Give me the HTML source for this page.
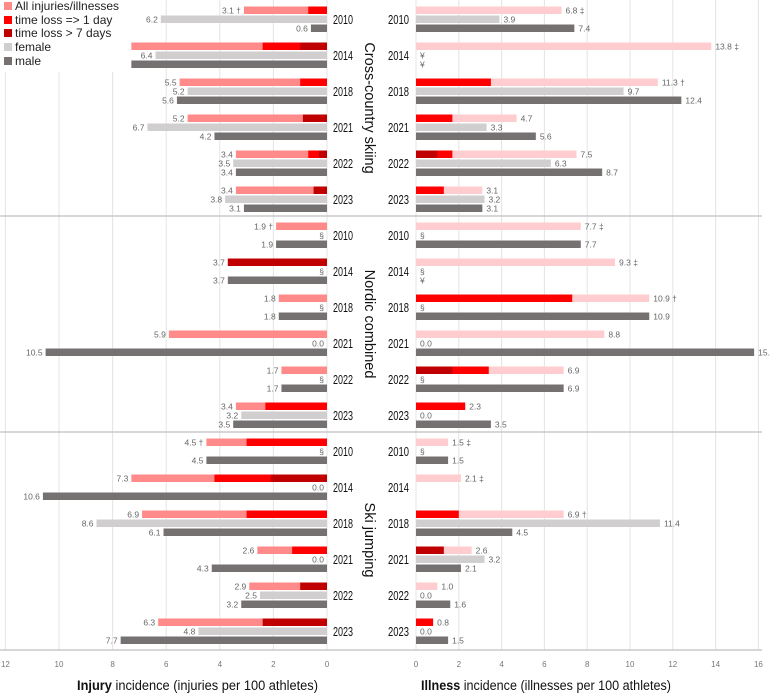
<!DOCTYPE html>
<html><head><meta charset="utf-8"><style>
html,body{margin:0;padding:0;background:#fff;}
svg{display:block;font-family:"Liberation Sans",sans-serif;}
</style></head><body>
<svg id="chart" width="770" height="694" viewBox="0 0 770 694" xmlns="http://www.w3.org/2000/svg">
<g id="grid"></g>
<g id="bars"></g>
<g id="labels"></g>
<g id="legend">
<rect x="0" y="0" width="122" height="72" fill="#fff"/>
<rect x="4" y="2" width="8" height="8" fill="#ff8a8a"/><text x="15" y="10" font-size="12" fill="#222">All injuries/illnesses</text>
<rect x="4" y="16" width="8" height="8" fill="#ff0000"/><text x="15" y="24" font-size="12" fill="#222">time loss =&gt; 1 day</text>
<rect x="4" y="29" width="8" height="8" fill="#c00000"/><text x="15" y="37" font-size="12" fill="#222">time loss &gt; 7 days</text>
<rect x="4" y="43" width="8" height="8" fill="#d0cece"/><text x="15" y="51" font-size="12" fill="#222">female</text>
<rect x="4" y="57" width="8" height="8" fill="#767171"/><text x="15" y="65" font-size="12" fill="#222">male</text>
</g>
<text x="77" y="690" font-size="13.5" textLength="241" lengthAdjust="spacingAndGlyphs" fill="#111"><tspan font-weight="bold">Injury</tspan> incidence (injuries per 100 athletes)</text>
<text x="421" y="690" font-size="13.5" textLength="250" lengthAdjust="spacingAndGlyphs" fill="#111"><tspan font-weight="bold">Illness</tspan> incidence (illnesses per 100 athletes)</text>
</svg>
<script>
const years = ['2010','2014','2018','2021','2022','2023'];
const sports = ['Cross-country skiing','Nordic combined','Ski jumping'];
// Injury (left) - 18 groups: XC, NC, SJ
const injAll  = [3.1,7.3,5.5,5.2,3.4,3.4, 1.9,3.7,1.8,5.9,1.7,3.4, 4.5,7.3,6.9,2.6,2.9,6.3];
const injTl1  = [0.7,2.4,1.0,0,0.7,0, 0,0,0,0,0,2.3, 3.0,4.2,3.0,1.3,0,0];
const injTl7  = [0,1.0,0,0.9,0.3,0.5, 0,3.7,0,0,0,0, 0,2.1,0,0,1.0,2.4];
const injFem  = [6.2,6.4,5.2,6.7,3.5,3.8, null,null,null,0,null,3.2, null,0,8.6,0,2.5,4.8];
const injMale = [0.6,7.3,5.6,4.2,3.4,3.1, 1.9,3.7,1.8,10.5,1.7,3.5, 4.5,10.6,6.1,4.3,3.2,7.7];
const injAllLbl  = ['3.1 †','','5.5','5.2','3.4','3.4','1.9 †','3.7','1.8','5.9','1.7','3.4','4.5 †','7.3','6.9','2.6','2.9','6.3'];
const injFemLbl  = ['6.2','6.4','5.2','6.7','3.5','3.8','§','§','§','0.0','§','3.2','§','0.0','8.6','0.0','2.5','4.8'];
const injMaleLbl = ['0.6','','5.6','4.2','3.4','3.1','1.9','3.7','1.8','10.5','1.7','3.5','4.5','10.6','6.1','4.3','3.2','7.7'];
// Illness (right)
const illAll  = [6.8,13.8,11.3,4.7,7.5,3.1, 7.7,9.3,10.9,8.8,6.9,2.3, 1.5,2.1,6.9,2.6,1.0,0.8];
const illTl1  = [0,0,3.5,1.7,1.7,1.3, 0,0,7.3,0,3.4,2.3, 0,0,2.0,0,0,0.8];
const illTl7  = [0,0,0,0,1.0,0, 0,0,0,0,1.7,0, 0,0,0,1.3,0,0];
const illFem  = [3.9,null,9.7,3.3,6.3,3.2, null,null,null,0,null,0, null,null,11.4,3.2,0,0];
const illMale = [7.4,null,12.4,5.6,8.7,3.1, 7.7,null,10.9,15.8,6.9,3.5, 1.5,null,4.5,2.1,1.6,1.5];
const illAllLbl  = ['6.8 ‡','13.8 ‡','11.3 †','4.7','7.5','3.1','7.7 ‡','9.3 ‡','10.9 †','8.8','6.9','2.3','1.5 ‡','2.1 ‡','6.9 †','2.6','1.0','0.8'];
const illFemLbl  = ['3.9','¥','9.7','3.3','6.3','3.2','§','§','§','0.0','§','0.0','§','','11.4','3.2','0.0','0.0'];
const illMaleLbl = ['7.4','¥','12.4','5.6','8.7','3.1','7.7','¥','10.9','15.8','6.9','3.5','1.5','','4.5','2.1','1.6','1.5'];
const injTicks = [0,2,4,6,8,10,12];
const illTicks = [0,2,4,6,8,10,12,14,16];

const NS='http://www.w3.org/2000/svg';
const L0=327, LPX=26.8, R0=416, RPX=21.4;
const xL=v=>L0-v*LPX, xR=v=>R0+v*RPX;
const yC=i=>19.5+36*i;
function mk(parent,tag,attrs){const e=document.createElementNS(NS,tag);for(const k in attrs)e.setAttribute(k,attrs[k]);document.getElementById(parent).appendChild(e);return e;}
injTicks.forEach(t=>{
  const l=mk('grid','line',{x1:xL(t),x2:xL(t),y1:0,y2:650,stroke:'#e4e4e4','stroke-width':1});
  
  
  const tx=mk('grid','text',{x:xL(t),y:667,'font-size':8,'text-anchor':'middle',fill:'#777'});tx.textContent=t;
  
  
});
illTicks.forEach(t=>{
  const l=mk('grid','line',{x1:xR(t),x2:xR(t),y1:0,y2:650,stroke:'#e4e4e4','stroke-width':1});
  
  
  const tx=mk('grid','text',{x:xR(t),y:667,'font-size':8,'text-anchor':'middle',fill:'#777'});tx.textContent=t;
  
  
});
[216,432,650].forEach(y=>{
  const l=mk('grid','line',{x1:0,x2:762,y1:y,y2:y,stroke:'#bfbfbf','stroke-width':1.3});
  
  
});
function bar(x1,x2,y,color,name){
  const r=mk('bars','rect',{x:Math.min(x1,x2),y:y,width:Math.abs(x2-x1),height:7.5,fill:color});
  
  
}
function lbl(x,y,txt,anchor,name){
  if(!txt)return;
  const t=mk('labels','text',{x:x,y:y,'font-size':8.5,'text-anchor':anchor,fill:'#666'});t.textContent=txt;
  
  
}
for(let i=0;i<18;i++){
  const c=yC(i), ya=c-13, yf=c-4, ym=c+5;
  bar(L0,xL(injAll[i]),ya,'#ff8a8a','injury-all-bar');
  if(injTl1[i]>0)bar(L0,xL(injTl1[i]),ya,'#ff0000','injury-timeloss1-bar');
  if(injTl7[i]>0)bar(L0,xL(injTl7[i]),ya,'#c00000','injury-timeloss7-bar');
  if(injFem[i]!=null&&injFem[i]>0)bar(L0,xL(injFem[i]),yf,'#d0cece','injury-female-bar');
  bar(L0,xL(injMale[i]),ym,'#767171','injury-male-bar');
  lbl(xL(injAll[i])-3,ya+7,injAllLbl[i],'end','injury-all-value');
  lbl(xL(injFem[i]||0)-3,yf+7,injFemLbl[i],'end','injury-female-value');
  lbl(xL(injMale[i])-3,ym+7,injMaleLbl[i],'end','injury-male-value');
  bar(R0,xR(illAll[i]),ya,'#ffcdcf','illness-all-bar');
  if(illTl1[i]>0)bar(R0,xR(illTl1[i]),ya,'#ff0000','illness-timeloss1-bar');
  if(illTl7[i]>0)bar(R0,xR(illTl7[i]),ya,'#c00000','illness-timeloss7-bar');
  if(illFem[i]!=null&&illFem[i]>0)bar(R0,xR(illFem[i]),yf,'#d0cece','illness-female-bar');
  if(illMale[i]!=null)bar(R0,xR(illMale[i]),ym,'#767171','illness-male-bar');
  lbl(xR(illAll[i])+4,ya+7,illAllLbl[i],'start','illness-all-value');
  lbl(xR(illFem[i]||0)+4,yf+7,illFemLbl[i],'start','illness-female-value');
  lbl(xR(illMale[i]||0)+4,ym+7,illMaleLbl[i],'start','illness-male-value');
  const y1=mk('labels','text',{x:333,y:c+4.5,'font-size':12.5,fill:'#111',textLength:20,lengthAdjust:'spacingAndGlyphs'});y1.textContent=years[i%6];
  
  
  const y2=mk('labels','text',{x:388,y:c+4.5,'font-size':12.5,fill:'#111',textLength:21,lengthAdjust:'spacingAndGlyphs'});y2.textContent=years[i%6];
  
  
}
sports.forEach((s,k)=>{
  const cy=108+216*k;
  const t=mk('labels','text',{x:0,y:0,'font-size':14.5,'text-anchor':'middle',fill:'#111',transform:`translate(365,${cy}) rotate(90)`});
  t.textContent=s;
  
  
});
</script>
</body></html>
